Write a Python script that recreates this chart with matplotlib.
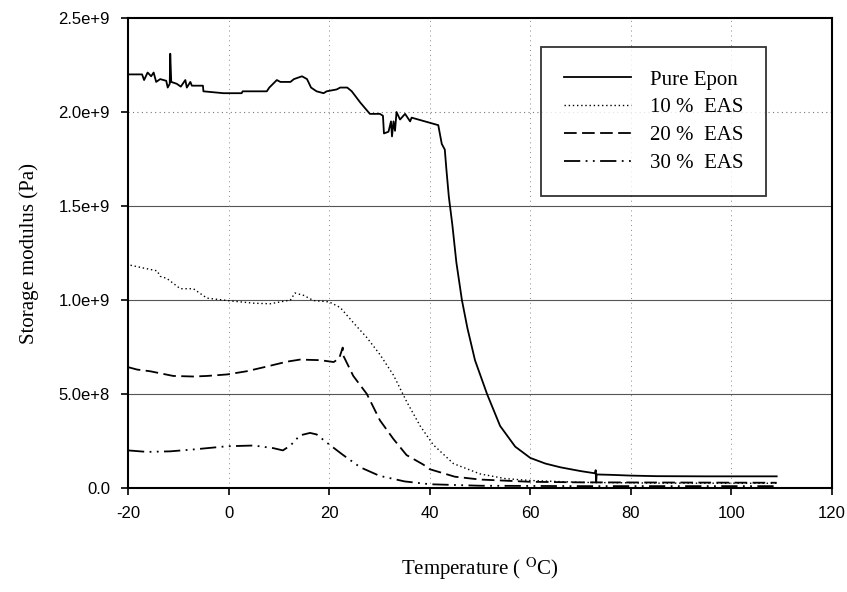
import matplotlib
matplotlib.use("Agg")
import matplotlib.pyplot as plt
from matplotlib.ticker import FixedLocator, FixedFormatter

plt.rcParams["mathtext.fontset"] = "stix"

# Storage modulus vs temperature (Pa)
epon_T = [-20, -17.2, -16.8, -16.1, -15.4, -14.9, -14.4, -13.6, -12.4, -12.1, -11.7, -11.6, -11.4,
          -10.3, -9.5, -8.6, -8.3, -7.6, -7.3, -5.1, -5.0, -1.0, 2.6, 2.8, 7.6, 8.1, 9.6, 10.3,
          12.3, 13.0, 14.6, 15.6, 16.4, 17.5, 18.9, 19.5, 20.5, 21.5, 22.2, 23.6, 24.5, 26.2,
          28.1, 30.1, 30.7, 30.9, 31.8, 32.3, 32.5, 32.8, 33.1, 33.4, 34.1, 35.1, 36.1, 36.4,
          41.7, 42.4, 43.0, 43.3, 43.8, 44.5, 45.3, 46.4, 47.5, 49.0, 51.4, 54.0, 57.0, 60.0,
          63.0, 66.0, 70.0, 72.9, 73.0, 73.1, 73.2, 76.0, 80.0, 85.0, 95.0, 109.0]
epon_E = [2.20e9, 2.20e9, 2.17e9, 2.21e9, 2.19e9, 2.21e9, 2.16e9, 2.175e9, 2.166e9, 2.13e9, 2.15e9,
          2.31e9, 2.16e9, 2.15e9, 2.135e9, 2.17e9, 2.13e9, 2.16e9, 2.14e9, 2.14e9, 2.11e9, 2.10e9,
          2.10e9, 2.11e9, 2.11e9, 2.13e9, 2.17e9, 2.16e9, 2.16e9, 2.175e9, 2.19e9, 2.175e9, 2.13e9,
          2.11e9, 2.10e9, 2.11e9, 2.115e9, 2.12e9, 2.13e9, 2.13e9, 2.11e9, 2.05e9, 1.99e9, 1.99e9,
          1.98e9, 1.886e9, 1.895e9, 1.95e9, 1.87e9, 1.95e9, 1.90e9, 2.0e9, 1.96e9, 1.99e9, 1.95e9,
          1.97e9, 1.93e9, 1.83e9, 1.80e9, 1.70e9, 1.55e9, 1.40e9, 1.20e9, 1.0e9, 0.85e9, 0.68e9,
          0.50e9, 0.33e9, 0.22e9, 0.16e9, 0.13e9, 0.11e9, 0.09e9, 0.078e9, 0.095e9, 0.03e9,
          0.072e9, 0.07e9, 0.066e9, 0.063e9, 0.062e9, 0.062e9]

eas10_T = [-19.5, -16.9, -14.2, -13.6, -12.3, -9.6, -7.0, -4.3, -0.2, 5.0, 8.3, 12.3, 13.2, 14.9,
           16.9, 20.0, 22.2, 24.8, 27.5, 30.1, 32.8, 35.4, 38.1, 40.7, 44.7, 50.0, 55.0, 60.0,
           70.0, 85.0, 109.0]
eas10_E = [1.185e9, 1.17e9, 1.155e9, 1.126e9, 1.115e9, 1.06e9, 1.06e9, 1.01e9, 0.997e9, 0.983e9,
           0.98e9, 1.0e9, 1.037e9, 1.025e9, 0.997e9, 0.99e9, 0.96e9, 0.88e9, 0.80e9, 0.71e9,
           0.60e9, 0.46e9, 0.33e9, 0.23e9, 0.13e9, 0.075e9, 0.05e9, 0.04e9, 0.03e9, 0.026e9,
           0.025e9]

eas20_T = [-20, -18.2, -15.6, -11.0, -7.0, -4.3, -0.3, 3.6, 7.6, 11.6, 14.2, 18.2, 20.9, 22.0,
           22.7, 22.8, 24.8, 27.5, 30.1, 32.8, 35.4, 38.7, 40.0, 45.0, 50.0, 60.0, 70.0, 109.0]
eas20_E = [0.643e9, 0.63e9, 0.621e9, 0.596e9, 0.593e9, 0.596e9, 0.604e9, 0.621e9, 0.646e9,
           0.672e9, 0.683e9, 0.68e9, 0.67e9, 0.69e9, 0.747e9, 0.705e9, 0.596e9, 0.50e9, 0.36e9,
           0.26e9, 0.175e9, 0.125e9, 0.10e9, 0.06e9, 0.045e9, 0.033e9, 0.03e9, 0.028e9]

eas30_T = [-20, -16.2, -11.6, -7.0, -0.3, 5.0, 8.9, 10.8, 12.3, 14.2, 16.2, 17.5, 19.5, 22.8,
           26.2, 30.0, 35.0, 40.0, 50.0, 70.0, 109.0]
eas30_E = [0.20e9, 0.192e9, 0.195e9, 0.205e9, 0.222e9, 0.226e9, 0.212e9, 0.20e9, 0.226e9,
           0.28e9, 0.293e9, 0.285e9, 0.242e9, 0.175e9, 0.11e9, 0.065e9, 0.035e9, 0.02e9,
           0.012e9, 0.01e9, 0.01e9]

series_labels = ["Pure Epon", "10 %  EAS", "20 %  EAS", "30 %  EAS"]

x_ticks = [-20, 0, 20, 40, 60, 80, 100, 120]
y_ticks = [0.0, 0.5e9, 1.0e9, 1.5e9, 2.0e9, 2.5e9]
y_tick_labels = ["0.0", "5.0e+8", "1.0e+9", "1.5e+9", "2.0e+9", "2.5e+9"]

fig = plt.figure(figsize=(8.47, 5.92), dpi=100)
ax = fig.add_axes([128 / 847, 1 - 488 / 592, (832 - 128) / 847, (488 - 18) / 592])

# grid: solid horizontal rules, dotted verticals
for yv in y_ticks[1:4]:
    ax.axhline(yv, color="#555555", lw=0.8, zorder=1)
ax.axhline(y_ticks[4], color="#777777", lw=0.8, ls=(0, (1, 3)), zorder=1)
for xv in x_ticks[1:-1]:
    ax.axvline(xv, color="#888888", lw=0.7, ls=(0, (1, 4)), zorder=1)

lw = 1.3
ax.plot(epon_T, epon_E, color="black", lw=lw, ls="-", label=series_labels[0], zorder=3)
ax.plot(eas10_T, eas10_E, color="black", lw=1.0, ls=(0, (1, 2)), label=series_labels[1], zorder=3)
ax.plot(eas20_T, eas20_E, color="black", lw=lw, ls=(0, (7, 3)), label=series_labels[2], zorder=3)
ax.plot(eas30_T, eas30_E, color="black", lw=lw, ls=(0, (9, 3, 1, 3, 1, 3)), label=series_labels[3], zorder=3)

ax.set_xlim(-20, 120)
ax.set_ylim(0, 2.5e9)
ax.xaxis.set_major_locator(FixedLocator(x_ticks))
ax.yaxis.set_major_locator(FixedLocator(y_ticks))
ax.yaxis.set_major_formatter(FixedFormatter(y_tick_labels))
ax.set_xticklabels([str(v) for v in x_ticks])

for sp in ax.spines.values():
    sp.set_linewidth(1.5)
ax.tick_params(direction="out", length=5, width=1.2, labelsize=12, pad=8)
for lab in ax.get_xticklabels() + ax.get_yticklabels():
    lab.set_fontfamily("Liberation Sans")

ax.set_xlabel("Temperature ( $^{\\mathrm{O}}$C)", fontfamily="Liberation Serif", fontsize=15, labelpad=25)
ax.set_ylabel("Storage modulus (Pa)", fontfamily="Liberation Serif", fontsize=15, labelpad=14)

leg = ax.legend(loc="upper right", bbox_to_anchor=(766 / 847, 1 - 47 / 592), bbox_transform=fig.transFigure,
                prop={"family": "Liberation Serif", "size": 15}, frameon=True, fancybox=False,
                edgecolor="black", handlelength=3.2, handletextpad=0.9, borderpad=1.1,
                labelspacing=0.4, borderaxespad=0)
leg.get_frame().set_linewidth(1.3)

fig.savefig("out.png", dpi=100)
